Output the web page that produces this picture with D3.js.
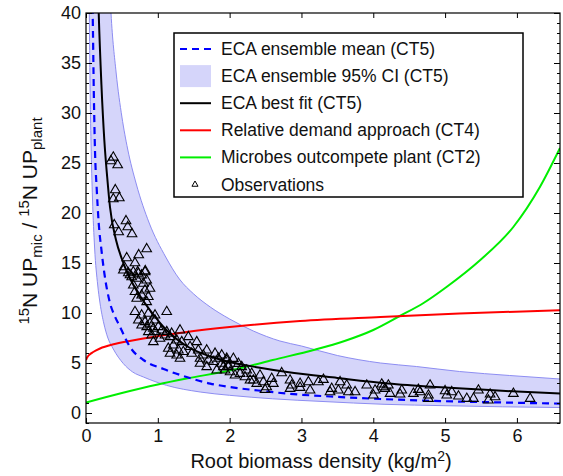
<html lang="en">
<head>
    <title>ECA root biomass chart</title>
    <meta charset="utf-8">
    <script src="https://cdn.jsdelivr.net/npm/d3@7/dist/d3.min.js"></script>
    <style>
        body { margin: 0; background: #fff; }
        text { font-family: "Liberation Sans", Arial, Helvetica, sans-serif; fill: #111; }
    </style>
</head>
<body></body>
<script type="text/javascript">

    //****************************************************************************************************************************//
    //	Data

    const xTicks = [0, 1, 2, 3, 4, 5, 6];
    const yTicks = [0, 5, 10, 15, 20, 25, 30, 35, 40];

    // ECA best fit (CT5), black
    const bestX = [0.16, 0.177, 0.215, 0.255, 0.295, 0.334, 0.418, 0.5, 0.58, 0.7, 0.89, 1.12, 1.4, 1.73, 2.0, 2.4, 2.8, 3.5, 4.2, 5.0, 5.5, 6.0, 6.6];
    const bestY = [44.5, 40, 32.8, 27.3, 23.6, 20.6, 17.3, 15.4, 13.95, 12.3, 10.3, 8.3, 6.7, 5.65, 5.1, 4.55, 4.1, 3.5, 2.95, 2.55, 2.34, 2.15, 1.94];

    // ECA ensemble mean (CT5), blue dashed
    const meanX = [0.085, 0.093, 0.11, 0.125, 0.15, 0.177, 0.215, 0.255, 0.334, 0.4, 0.474, 0.613, 0.8, 1.08, 1.4, 1.73, 2.0, 2.4, 2.8, 3.4, 4.1, 5.0, 5.8, 6.6];
    const meanY = [43, 40, 31.5, 26.3, 22.3, 19, 16.3, 14, 11, 9.7, 8.6, 6.6, 5.3, 4.4, 3.6, 2.94, 2.6, 2.25, 1.94, 1.65, 1.4, 1.18, 1.05, 0.94];

    // ECA ensemble 95% CI (CT5), upper and lower edges
    const upX = [0.32, 0.348, 0.42, 0.5, 0.58, 0.7, 0.88, 1.11, 1.3, 1.5, 1.73, 2.0, 2.33, 2.7, 3.0, 3.5, 4.1, 4.6, 5.2, 5.9, 6.6];
    const upY = [44, 40, 34, 29.6, 26.4, 22.9, 19, 15.6, 13.4, 11.9, 10.6, 9.4, 8.2, 7.2, 6.7, 5.75, 5.0, 4.65, 4.15, 3.75, 3.4];
    const loX = [0.04, 0.046, 0.056, 0.07, 0.09, 0.12, 0.163, 0.195, 0.25, 0.3, 0.38, 0.52, 0.65, 0.8, 1.12, 1.59, 2.0, 2.6, 3.3, 4.15, 5.0, 5.8, 6.6];
    const loY = [45, 40, 33, 27, 21.5, 16.5, 12.8, 11, 8.9, 7.6, 6.4, 4.94, 4.1, 3.6, 2.77, 2.1, 1.77, 1.42, 1.15, 0.87, 0.73, 0.62, 0.55];

    // Relative demand approach (CT4), red
    const redX = [0, 0.02, 0.05, 0.1, 0.195, 0.4, 0.8, 1.4, 2.0, 2.98, 4.1, 5.2, 6.6];
    const redY = [5.3, 5.6, 5.85, 6.1, 6.45, 6.9, 7.45, 8.1, 8.6, 9.2, 9.6, 9.95, 10.28];

    // Microbes outcompete plant (CT2), green
    const greenX = [0, 0.5, 1.0, 1.4, 2.0, 2.19, 2.6, 3.17, 3.6, 4.0, 4.37, 4.7, 5.02, 5.49, 5.95, 6.32, 6.6];
    const greenY = [1.05, 2.0, 2.85, 3.44, 4.25, 4.55, 5.3, 6.3, 7.2, 8.3, 9.7, 11.0, 12.6, 15.3, 18.6, 22.6, 26.5];

    // Observations
    const obsX = [0.380, 0.348, 0.441, 0.408, 0.380, 0.464, 0.557, 0.394, 0.581, 0.455, 0.641, 0.845, 0.734, 0.567, 0.682, 0.533, 0.826, 0.720, 0.613,
        0.52, 0.589, 0.659, 0.729, 0.822, 0.636, 0.706, 0.775, 0.845, 0.659, 0.798, 0.891, 0.682, 0.822, 0.775, 0.868, 0.845, 0.706,
        0.682, 0.775, 0.868, 0.961, 1.124, 0.729, 0.822, 0.891, 0.961, 0.775, 0.845, 0.938, 1.007, 0.868, 0.961, 1.054, 1.124, 1.193, 1.309,
        0.915, 1.03, 1.10, 1.17, 0.938, 1.263, 1.333, 1.425, 1.146, 1.216, 1.286, 1.17, 1.263, 1.355, 1.309, 1.449, 1.542, 1.472, 1.564,
        1.634, 1.681, 1.588, 1.703, 1.797, 1.773, 1.843, 1.89, 1.96, 1.982, 1.82, 1.936, 1.681, 1.588,
        1.89, 1.959, 2.052, 2.122, 2.168, 2.238, 1.913, 2.006, 2.075, 2.214, 2.307, 2.33, 2.423, 2.47, 2.377, 2.586, 2.609, 2.516, 2.493,
        2.725, 2.841, 2.865, 2.841, 2.981, 2.981, 3.097, 3.12, 3.236, 3.306, 3.421, 3.514, 3.538, 3.63, 3.654, 3.747, 3.398, 3.909, 4.025,
        4.002, 4.141, 4.21, 1.982, 2.145, 2.284,
        4.118, 4.164, 4.234, 4.397, 4.373, 4.559, 4.628, 4.652, 4.768, 4.791, 4.768, 5.0, 5.023, 5.093, 5.186, 5.302, 5.395, 5.464,
        5.627, 5.603, 5.696, 5.951, 6.184];
    const obsY = [25.57, 25.2, 24.8, 22.3, 21.4, 21.5, 19.2, 18.8, 18.6, 18.1, 17.9, 16.4, 15.8, 15.5, 15.0, 14.6, 14.2, 14.1, 13.8,
        14.28, 14.0, 14.1, 13.95, 14.1, 13.6, 13.45, 13.78, 13.28, 12.78, 12.95, 12.45, 12.12, 12.28, 11.78, 11.62, 11.11, 11.45,
        10.12, 9.78, 9.95, 9.78, 10.12, 9.28, 9.11, 8.95, 9.28, 8.78, 8.61, 8.45, 8.61, 8.11, 8.11, 8.28, 8.11, 7.95, 8.28,
        7.78, 7.45, 7.78, 7.61, 7.11, 7.28, 7.11, 7.61, 6.45, 6.78, 6.28, 5.95, 5.78, 6.12, 5.45, 6.62, 7.11, 5.95, 6.28,
        5.78, 6.28, 5.45, 5.28, 5.95, 5.12, 5.45, 4.95, 5.45, 4.61, 4.28, 4.28, 4.61, 4.95,
        5.78, 5.27, 5.44, 4.94, 4.61, 4.27, 4.61, 4.1, 3.77, 3.6, 3.94, 3.27, 3.77, 3.1, 2.94, 3.44, 2.94, 2.6, 2.34,
        4.0, 3.27, 2.77, 2.44, 2.94, 2.54, 3.1, 2.27, 3.1, 3.34, 2.44, 2.27, 3.1, 2.77, 2.1, 2.1, 2.1, 2.77, 2.27,
        1.77, 2.6, 2.77, 4.77, 3.94, 3.27,
        2.87, 2.44, 1.94, 2.27, 1.87, 1.94, 2.34, 2.1, 1.77, 2.77, 1.44, 2.2, 1.77, 2.1, 1.67, 1.44, 1.44, 2.27,
        1.87, 1.27, 1.6, 1.94, 1.44];

    const legendLabels = ["ECA ensemble mean (CT5)", "ECA ensemble 95% CI (CT5)", "ECA best fit (CT5)",
        "Relative demand approach (CT4)", "Microbes outcompete plant (CT2)", "Observations"];

    //****************************************************************************************************************************//
    //	Frame

    const W = 563, H = 476;
    const m = {left: 86, top: 13, right: 3, bottom: 53};
    const pw = W - m.left - m.right, ph = H - m.top - m.bottom;

    const svg = d3.select("body").append("svg").attr("width", W).attr("height", H);
    const g = svg.append("g").attr("transform", `translate(${m.left},${m.top})`);

    const x = d3.scaleLinear().domain([0, 6.6]).range([0, pw]);
    const y = d3.scaleLinear().domain([-1, 40]).range([ph, 0]);

    svg.append("defs").append("clipPath").attr("id", "plotClip")
        .append("rect").attr("width", pw).attr("height", ph);

    const plot = g.append("g").attr("clip-path", "url(#plotClip)");

    const zip = (xs, ys) => xs.map((v, i) => [v, ys[i]]);
    const line = d3.line().x(d => x(d[0])).y(d => y(d[1])).curve(d3.curveMonotoneX);

    //	CI band
    const upPts = zip(upX, upY), loPts = zip(loX, loY);
    const bandPath = line(upPts) + "L" + line(loPts.slice().reverse()).slice(1) + "Z";
    plot.append("path").attr("d", bandPath)
        .attr("fill", "#d5d5fa").attr("stroke", "none");
    plot.append("path").attr("d", line(upPts)).attr("fill", "none").attr("stroke", "#8d8df2").attr("stroke-width", 1);
    plot.append("path").attr("d", line(loPts)).attr("fill", "none").attr("stroke", "#8d8df2").attr("stroke-width", 1);

    //	Curves
    plot.append("path").attr("d", line(zip(greenX, greenY)))
        .attr("fill", "none").attr("stroke", "#00ee00").attr("stroke-width", 2);
    plot.append("path").attr("d", line(zip(redX, redY)))
        .attr("fill", "none").attr("stroke", "#ff0000").attr("stroke-width", 2);
    plot.append("path").attr("d", line(zip(meanX, meanY)))
        .attr("fill", "none").attr("stroke", "#0000ff").attr("stroke-width", 2.2)
        .attr("stroke-dasharray", "7,5");

    //	Observations
    const tri = d3.symbol().type(d3.symbolTriangle).size(40);
    plot.selectAll(".obs").data(zip(obsX, obsY)).enter()
        .append("path").attr("class", "obs")
        .attr("d", tri)
        .attr("transform", d => `translate(${x(d[0])},${y(d[1])})`)
        .attr("fill", "none").attr("stroke", "#000").attr("stroke-width", 1.1);

    plot.append("path").attr("d", line(zip(bestX, bestY)))
        .attr("fill", "none").attr("stroke", "#000").attr("stroke-width", 2);

    //****************************************************************************************************************************//
    //	Axes (ticks inside, on all four sides)

    const yMinor = d3.range(-1, 41, 1).filter(v => v % 5 !== 0);

    g.append("g").attr("transform", `translate(0,${ph})`)
        .call(d3.axisBottom(x).tickValues(xTicks).tickSize(-5).tickPadding(6).tickFormat(d3.format("d")))
        .call(a => a.select(".domain").remove())
        .call(a => a.selectAll("text").style("font-size", "18px"));
    g.append("g")
        .call(d3.axisTop(x).tickValues(xTicks).tickSize(-5).tickFormat(""))
        .call(a => a.select(".domain").remove());

    g.append("g")
        .call(d3.axisLeft(y).tickValues(yTicks).tickSize(-6).tickPadding(5))
        .call(a => a.select(".domain").remove())
        .call(a => a.selectAll("text").style("font-size", "18px"));
    g.append("g")
        .call(d3.axisLeft(y).tickValues(yMinor).tickSize(-3).tickFormat(""))
        .call(a => a.select(".domain").remove());
    g.append("g").attr("transform", `translate(${pw},0)`)
        .call(d3.axisRight(y).tickValues(yTicks).tickSize(-6).tickFormat(""))
        .call(a => a.select(".domain").remove());
    g.append("g").attr("transform", `translate(${pw},0)`)
        .call(d3.axisRight(y).tickValues(yMinor).tickSize(-3).tickFormat(""))
        .call(a => a.select(".domain").remove());

    g.selectAll(".tick line").attr("stroke", "#000");

    g.append("rect").attr("width", pw).attr("height", ph)
        .attr("fill", "none").attr("stroke", "#000").attr("stroke-width", 1.2);

    //	Axis titles
    const xt = svg.append("text")
        .attr("x", m.left + pw / 2 - 2).attr("y", 468)
        .attr("text-anchor", "middle").style("font-size", "20px");
    xt.append("tspan").text("Root biomass density (kg/m");
    xt.append("tspan").attr("dy", -7).style("font-size", "14px").text("2");
    xt.append("tspan").attr("dy", 7).text(")");

    const yt = svg.append("text")
        .attr("transform", "translate(37,221) rotate(-90)")
        .attr("text-anchor", "middle").style("font-size", "21px");
    yt.append("tspan").attr("dy", -8).style("font-size", "15px").text("15");
    yt.append("tspan").attr("dy", 8).text("N UP");
    yt.append("tspan").attr("dy", 5).style("font-size", "15px").text("mic");
    yt.append("tspan").attr("dy", -5).text(" / ");
    yt.append("tspan").attr("dy", -8).style("font-size", "15px").text("15");
    yt.append("tspan").attr("dy", 8).text("N UP");
    yt.append("tspan").attr("dy", 5).style("font-size", "15px").text("plant");

    //****************************************************************************************************************************//
    //	Legend

    const lg = svg.append("g").attr("transform", "translate(174,33)");
    lg.append("rect").attr("width", 349).attr("height", 164)
        .attr("fill", "#fff").attr("stroke", "#000").attr("stroke-width", 1.5);

    const rowY = i => 16 + i * 27.1;
    lg.append("line").attr("x1", 6).attr("x2", 37).attr("y1", rowY(0)).attr("y2", rowY(0))
        .attr("stroke", "#0000ff").attr("stroke-width", 2.2).attr("stroke-dasharray", "7,5");
    lg.append("rect").attr("x", 6).attr("y", rowY(1) - 11).attr("width", 31).attr("height", 22)
        .attr("fill", "#d5d5fa");
    lg.append("line").attr("x1", 6).attr("x2", 37).attr("y1", rowY(2)).attr("y2", rowY(2))
        .attr("stroke", "#000").attr("stroke-width", 2);
    lg.append("line").attr("x1", 6).attr("x2", 37).attr("y1", rowY(3)).attr("y2", rowY(3))
        .attr("stroke", "#ff0000").attr("stroke-width", 2);
    lg.append("line").attr("x1", 6).attr("x2", 37).attr("y1", rowY(4)).attr("y2", rowY(4))
        .attr("stroke", "#00ee00").attr("stroke-width", 2);
    lg.append("path").attr("d", d3.symbol().type(d3.symbolTriangle).size(16))
        .attr("transform", `translate(21,${rowY(5)})`)
        .attr("fill", "none").attr("stroke", "#000").attr("stroke-width", 1);

    lg.selectAll(".lab").data(legendLabels).enter()
        .append("text").attr("class", "lab")
        .attr("x", 47).attr("y", (d, i) => rowY(i) + 6)
        .style("font-size", "17.5px")
        .text(d => d);

</script>
</html>
